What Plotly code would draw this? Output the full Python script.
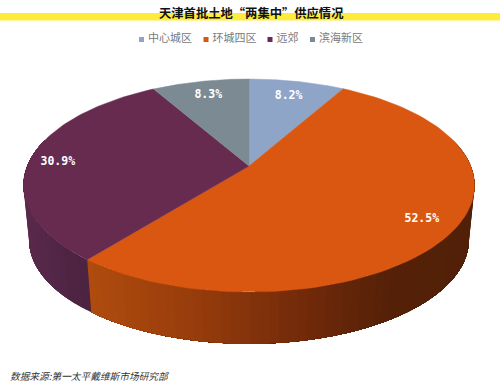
import numpy as np
import plotly.graph_objects as go

categories = ["中心城区", "环城四区", "远郊", "滨海新区"]
shares = [8.2, 52.5, 30.9, 8.3]
labels = ["8.2%", "52.5%", "30.9%", "8.3%"]
top_colors = ["#8FA5C8", "#DA5711", "#662B4F", "#7C8A93"]
title = "天津首批土地“两集中”供应情况"
source = "数据来源:第一太平戴维斯市场研究部"

CX, CY, R, C, B = 249.0, 166.0, 221.7, -0.183, 102.9
ELL_Y, SIDE_Y, SIDE_S = 185.5, 240.0, 0.975
FONT = "Noto Sans CJK SC"
LABEL_TURN = [0, -0.5, -1.7, 0]
LABEL_RAD = [0.80, 0.855, 0.87, 0.815]


def top(deg, rad=1.0):
    t = np.radians(deg)
    u, v = np.asarray(rad) * np.sin(t), -np.asarray(rad) * np.cos(t)
    d = 1 + C * v
    return CX + R * u / d, CY + B * v / d


def bottom(deg):
    x, y = top(deg)
    return CX + SIDE_S * (x - CX), SIDE_Y + SIDE_S * (y - ELL_Y)


def lerp(stops, p):
    xs = [s[0] for s in stops]
    return "rgb(%d,%d,%d)" % tuple(np.interp(p, xs, [s[1][i] for s in stops]) for i in range(3))


orange_side = [(90, (176, 76, 15)), (200, (150, 60, 12)), (300, (115, 43, 10)), (390, (85, 33, 8)), (475, (82, 32, 8))]
purple_side = [(20, (92, 42, 76)), (60, (82, 38, 70)), (95, (74, 34, 62))]

fig = go.Figure()
edges = np.concatenate([[0], np.cumsum(shares)]) / sum(shares) * 360


def strips(a0, a1, stops, n):
    # each band runs on to the far end of the rim, so bands overlap and leave no seams
    grid = np.linspace(a0, a1, n + 1)
    for k in range(n):
        a, b = grid[k], grid[k + 1]
        arc = np.linspace(a, a1, max(4, 3 * (n - k)))
        tx, ty = top(arc)
        bx, by = bottom(arc)
        ma = (a + b) / 2
        xmid = (top(ma)[0] + bottom(ma)[0]) / 2
        fig.add_trace(go.Scatter(
            x=np.r_[tx, bx[::-1]], y=np.r_[ty, by[::-1]], fill="toself", mode="none",
            fillcolor=lerp(stops, xmid), hoverinfo="skip", showlegend=False))


strips(75, edges[2], orange_side, 70)
strips(edges[2], 285, purple_side, 24)

for i, cat in enumerate(categories):
    arc = np.linspace(edges[i], edges[i + 1], 90)
    x, y = top(arc)
    fig.add_trace(go.Scatter(
        x=np.r_[CX, x, CX], y=np.r_[CY, y, CY], fill="toself", mode="lines",
        line=dict(width=0.5, color=top_colors[i]), fillcolor=top_colors[i],
        name=cat, hoverinfo="name", showlegend=False))

mid = (edges[:-1] + edges[1:]) / 2 + np.array(LABEL_TURN)
lx, ly = top(mid, np.array(LABEL_RAD))
fig.add_trace(go.Scatter(
    x=lx, y=ly, mode="text", text=labels, showlegend=False, hoverinfo="skip",
    textfont=dict(family="DejaVu Sans Mono", size=11.5, color="white", weight="bold")))

legend_x = [141.5, 206, 270, 312.5]
for x0, cat, col in zip(legend_x, categories, top_colors):
    fig.add_trace(go.Scatter(
        x=[x0], y=[39.5], mode="markers+text", text=[" " + cat], textposition="middle right",
        marker=dict(symbol="square", size=5, color=col), showlegend=False, hoverinfo="skip",
        textfont=dict(family=FONT, size=11, color="#7A7A7A")))

fig.add_shape(type="rect", x0=0, x1=500, y0=13, y1=20.5, fillcolor="#FFEB3B", line_width=0, layer="below")
fig.add_annotation(x=251, y=12.5, text="<b>%s</b>" % title, showarrow=False,
                   font=dict(family=FONT, size=12.3, color="#111111"))
fig.add_annotation(x=8, y=375.5, xanchor="left", text="<i>%s</i>" % source, showarrow=False,
                   font=dict(family=FONT, size=9.7, color="#333333"))

fig.update_layout(
    width=500, height=383, margin=dict(l=0, r=0, t=0, b=0), showlegend=False,
    paper_bgcolor="white", plot_bgcolor="white",
    xaxis=dict(range=[0, 500], visible=False, fixedrange=True),
    yaxis=dict(range=[383, 0], visible=False, fixedrange=True),
)
fig.write_html("out.html", config=dict(displayModeBar=False),
               post_script="document.body.style.margin='0';document.body.style.overflow='hidden';")
